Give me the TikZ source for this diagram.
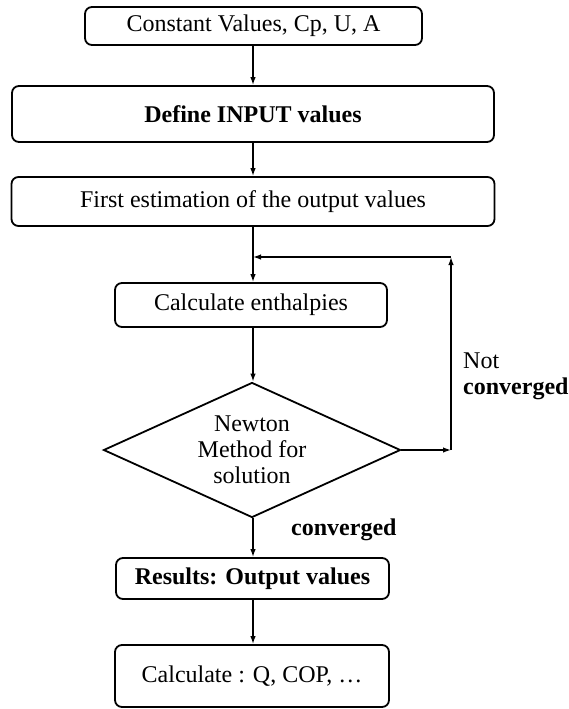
\documentclass[tikz,border=0pt]{standalone}
\usepackage{fontspec}
\setmainfont{Liberation Serif}
\usetikzlibrary{shapes.geometric,arrows.meta}
\begin{document}
\begin{tikzpicture}[x=1pt,y=-1pt,
  font=\fontsize{24}{26}\selectfont,
  stepbox/.style={draw,line width=1.8pt,rounded corners=7pt,inner sep=0pt,align=center},
  conn/.style={line width=1.4pt,-{Latex[length=8pt,width=5.5pt]}},
  decision/.style={draw,diamond,line width=1.8pt,shape aspect=2.2,inner sep=0pt,align=center,
    minimum width=297pt,minimum height=135pt},
  lbl/.style={inner sep=0pt,anchor=base west}]
\useasboundingbox (0,0) rectangle (568,709);
\node[stepbox,minimum width=337pt,minimum height=38pt] (b1) at (253.5,26) {Constant Values, Cp, U, A};
\node[stepbox,minimum width=482pt,minimum height=56pt] (b2) at (253,114) {\textbf{Define INPUT values}};
\node[stepbox,minimum width=483pt,minimum height=49pt] (b3) at (253,201.5) {First estimation of the output values};
\node[stepbox,minimum width=272pt,minimum height=44pt] (b4) at (251,305) {Calculate enthalpies};
\node[decision] (d) at (252,450) {Newton\\Method for\\solution};
\node[stepbox,minimum width=273pt,minimum height=41pt] (b5) at (252.5,578.5) {\textbf{Results: Output values}};
\node[stepbox,minimum width=274pt,minimum height=62pt] (b6) at (252,676) {Calculate : Q, COP, \dots};
\coordinate (j) at (253,257);
\coordinate (c1) at (451,257);
\coordinate (c2) at (451,450);
\node[inner sep=0pt,align=left,anchor=north west] (nc) at (463,353) {Not\\\textbf{converged}};
\node[lbl] (cv) at (291,535) {\textbf{converged}};
\draw[conn] (253,0 |- b1.south) -- (253,0 |- b2.north);
\draw[conn] (253,0 |- b2.south) -- (253,0 |- b3.north);
\draw[conn] (253,0 |- b3.south) -- (253,0 |- b4.north);
\draw[conn] (253,0 |- b4.south) -- (253,0 |- d.north);
\draw[conn] (d.east) -- (c2);
\draw[conn] (c2) -- (c1);
\draw[conn] (c1) -- (j);
\draw[conn] (253,0 |- d.south) -- (253,0 |- b5.north);
\draw[conn] (253,0 |- b5.south) -- (253,0 |- b6.north);
\end{tikzpicture}
\end{document}
